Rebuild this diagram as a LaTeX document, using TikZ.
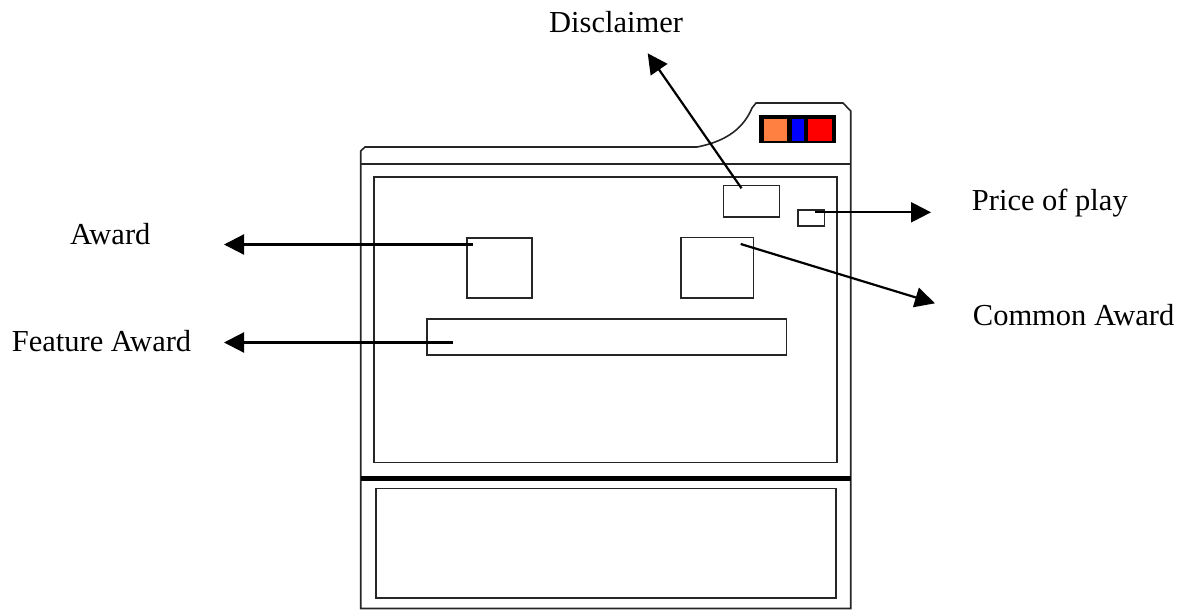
\documentclass[tikz,border=0pt]{standalone}
\usepackage{fontspec}
\setmainfont{Liberation Serif}
\usetikzlibrary{arrows.meta}
\definecolor{lampor}{RGB}{255,128,64}
\begin{document}
\begin{tikzpicture}[x=1pt,y=-1pt,
  frame/.style={draw=black!85,line width=1.6pt},
  boxnode/.style={frame,rectangle,inner sep=0pt,anchor=north west},
  lbl/.style={inner sep=0pt,anchor=base west,font=\fontsize{30.5}{36}\selectfont},
  callout/.style={line width=2.2pt,-{Triangle[length=20pt,width=20pt]}}]
\useasboundingbox (0,0) rectangle (1182,610);
% cabinet outline
\draw[frame] (360.7,608.5) -- (360.7,151) -- (365,147) -- (697,147)
  .. controls (728,141) and (744,127) .. (752,108) -- (756,103) -- (843,103)
  -- (850.7,111) -- (850.7,608.5) -- cycle;
\draw[frame] (360.7,164) -- (850.7,164);
% screen
\draw[frame] (374,176.7) rectangle (837,462.3);
% thick separator
\draw[line width=5pt] (360.7,478) -- (850.7,478);
% lower panel
\draw[frame] (375.7,488.3) rectangle (835.7,597.7);
% lamp box
\fill[black] (759,115) rectangle (835.7,143.3);
\fill[lampor] (763.7,118.7) rectangle (786.7,141);
\fill[blue] (791.7,118.7) rectangle (804,141);
\fill[red] (808.3,118.7) rectangle (831.7,141);
% boxes
\node[boxnode,minimum width=56pt,minimum height=31.3pt] (disc) at (722.7,184.7) {};
\node[boxnode,minimum width=26.5pt,minimum height=16pt] (price) at (797,209) {};
\node[boxnode,minimum width=72.7pt,minimum height=60.8pt] (common) at (680,236.5) {};
\node[boxnode,minimum width=65pt,minimum height=60.3pt] (award) at (466,237) {};
\node[boxnode,minimum width=359.7pt,minimum height=36pt] (feature) at (426,318.3) {};
% labels
\node[lbl] (tdisc) at (549,32.3) {Disclaimer};
\node[lbl] (tprice) at (971.7,210.7) {Price of play};
\node[lbl] (tcommon) at (972.7,325) {Common Award};
\node[lbl] (taward) at (70,244.3) {Award};
\node[lbl] (tfeature) at (11.7,351.7) {Feature Award};
% connector endpoints
\coordinate (sdisc) at (741.5,188.3);
\coordinate (edisc) at (647.7,53.3);
\coordinate (sprice) at (815,212.3);
\coordinate (eprice) at (931,212.3);
\coordinate (scommon) at (740.7,244);
\coordinate (ecommon) at (935,303.3);
\coordinate (saward) at (473,244.5);
\coordinate (eaward) at (224,244.5);
\coordinate (sfeature) at (453,342.5);
\coordinate (efeature) at (224,342.5);
% connectors
\draw[callout] (sdisc) -- (edisc);
\draw[callout] (sprice) -- (eprice);
\draw[callout] (scommon) -- (ecommon);
\draw[callout] (saward) -- (eaward);
\draw[callout] (sfeature) -- (efeature);
\end{tikzpicture}
\end{document}
